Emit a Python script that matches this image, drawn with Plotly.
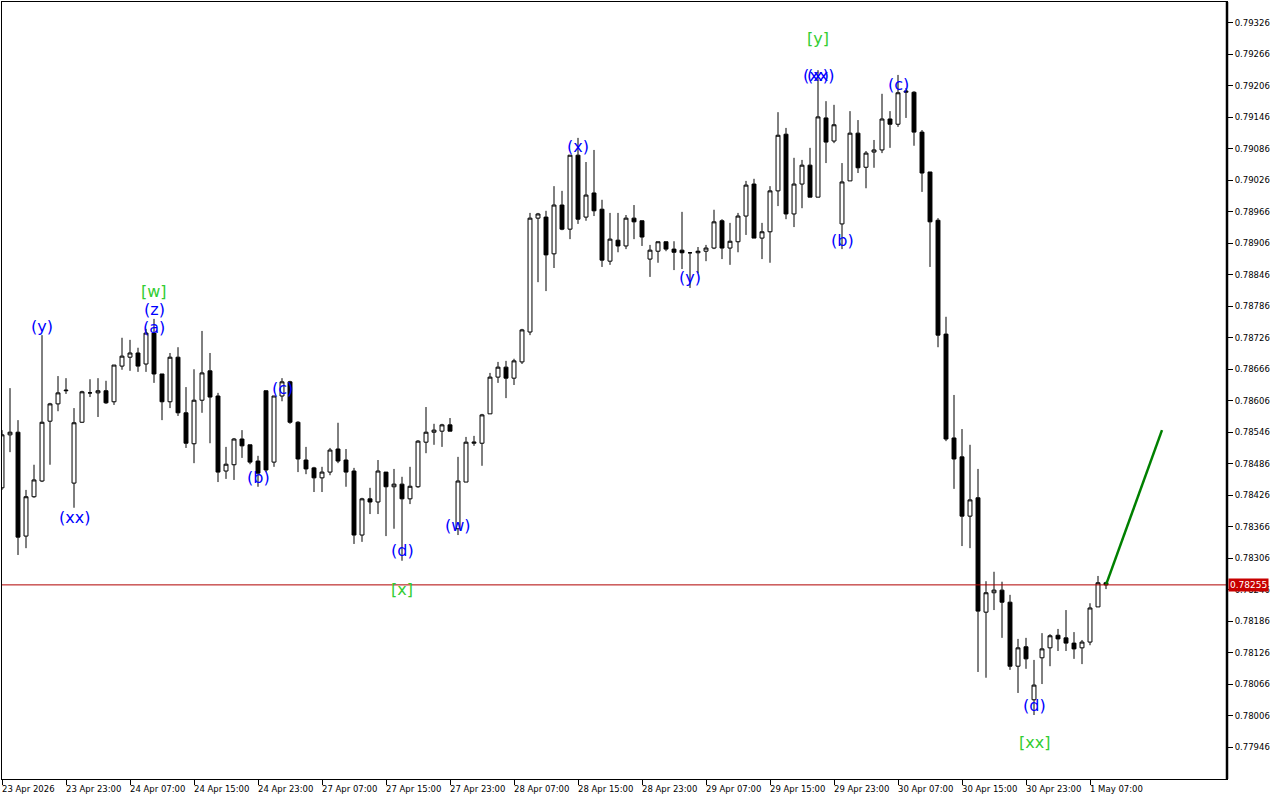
import plotly.graph_objects as go

# ---- OHLC data (H1 candles), index 0 = 23 Apr 2026 15:00 ----
opens = [0.78440, 0.78541, 0.78546, 0.78348, 0.78423, 0.78453, 0.78567, 0.78600, 0.78625, 0.78449,
         0.78565, 0.78621, 0.78621, 0.78625, 0.78604, 0.78672, 0.78689, 0.78697, 0.78676, 0.78735,
         0.78657, 0.78604, 0.78689, 0.78583, 0.78524, 0.78607, 0.78663, 0.78615, 0.78472, 0.78484,
         0.78533, 0.78522, 0.78491, 0.78625, 0.78489, 0.78615, 0.78642, 0.78565, 0.78493, 0.78478,
         0.78459, 0.78470, 0.78514, 0.78493, 0.78472, 0.78350, 0.78419, 0.78413, 0.78470, 0.78442,
         0.78447, 0.78419, 0.78442, 0.78527, 0.78546, 0.78548, 0.78560, 0.78362, 0.78451, 0.78525,
         0.78525, 0.78581, 0.78651, 0.78670, 0.78649, 0.78680, 0.78737, 0.78954, 0.78956, 0.78886,
         0.78979, 0.78933, 0.79074, 0.78956, 0.79002, 0.78971, 0.78872, 0.78912, 0.78901, 0.78954,
         0.78949, 0.78876, 0.78891, 0.78909, 0.78895, 0.78893, 0.78888, 0.78888, 0.78891, 0.78897,
         0.78949, 0.78897, 0.78909, 0.78958, 0.79019, 0.78916, 0.78928, 0.79006, 0.79114, 0.78962,
         0.79019, 0.79055, 0.78994, 0.79145, 0.79101, 0.78943, 0.79025, 0.79116, 0.79051, 0.79080,
         0.79084, 0.79143, 0.79133, 0.79194, 0.79194, 0.79118, 0.79042, 0.78950, 0.78733, 0.78535,
         0.78499, 0.78386, 0.78421, 0.78203, 0.78240, 0.78245, 0.78222, 0.78100, 0.78137, 0.78036,
         0.78116, 0.78135, 0.78159, 0.78154, 0.78144, 0.78135, 0.78146, 0.78213, 0.78259]
highs = [0.78550, 0.78630, 0.78569, 0.78436, 0.78484, 0.78731, 0.78602, 0.78653, 0.78649, 0.78592,
         0.78625, 0.78647, 0.78649, 0.78644, 0.78674, 0.78726, 0.78722, 0.78707, 0.78743, 0.78762,
         0.78657, 0.78697, 0.78708, 0.78632, 0.78666, 0.78739, 0.78697, 0.78621, 0.78518, 0.78535,
         0.78550, 0.78522, 0.78501, 0.78625, 0.78615, 0.78649, 0.78644, 0.78567, 0.78518, 0.78480,
         0.78480, 0.78516, 0.78564, 0.78514, 0.78478, 0.78421, 0.78440, 0.78493, 0.78470, 0.78476,
         0.78461, 0.78480, 0.78531, 0.78594, 0.78562, 0.78562, 0.78573, 0.78499, 0.78537, 0.78539,
         0.78581, 0.78659, 0.78680, 0.78682, 0.78686, 0.78743, 0.78964, 0.78964, 0.78968, 0.79015,
         0.79006, 0.79074, 0.79107, 0.79061, 0.79084, 0.78989, 0.78964, 0.78964, 0.78960, 0.78979,
         0.78949, 0.78903, 0.78909, 0.78909, 0.78910, 0.78966, 0.78889, 0.78899, 0.78903, 0.78970,
         0.78952, 0.78945, 0.78964, 0.79025, 0.79029, 0.78945, 0.79015, 0.79156, 0.79126, 0.79069,
         0.79065, 0.79088, 0.79236, 0.79177, 0.79170, 0.79059, 0.79158, 0.79141, 0.79082, 0.79103,
         0.79191, 0.79158, 0.79227, 0.79202, 0.79196, 0.79122, 0.79042, 0.78954, 0.78766, 0.78617,
         0.78552, 0.78522, 0.78476, 0.78262, 0.78280, 0.78261, 0.78236, 0.78152, 0.78154, 0.78112,
         0.78163, 0.78161, 0.78171, 0.78207, 0.78165, 0.78150, 0.78220, 0.78272, 0.78261]
lows = [0.78436, 0.78508, 0.78312, 0.78325, 0.78421, 0.78451, 0.78484, 0.78586, 0.78619, 0.78402,
        0.78564, 0.78613, 0.78575, 0.78600, 0.78598, 0.78665, 0.78663, 0.78661, 0.78661, 0.78640,
        0.78569, 0.78592, 0.78577, 0.78516, 0.78487, 0.78583, 0.78525, 0.78451, 0.78457, 0.78455,
        0.78497, 0.78485, 0.78442, 0.78470, 0.78480, 0.78605, 0.78562, 0.78470, 0.78466, 0.78432,
        0.78432, 0.78464, 0.78487, 0.78442, 0.78333, 0.78337, 0.78390, 0.78390, 0.78348, 0.78362,
        0.78301, 0.78409, 0.78440, 0.78506, 0.78522, 0.78518, 0.78548, 0.78350, 0.78451, 0.78520,
        0.78482, 0.78581, 0.78640, 0.78611, 0.78636, 0.78676, 0.78731, 0.78832, 0.78815, 0.78859,
        0.78931, 0.78914, 0.78943, 0.78949, 0.78958, 0.78861, 0.78865, 0.78889, 0.78895, 0.78914,
        0.78901, 0.78842, 0.78869, 0.78891, 0.78855, 0.78857, 0.78821, 0.78849, 0.78872, 0.78895,
        0.78876, 0.78865, 0.78889, 0.78922, 0.78916, 0.78876, 0.78869, 0.78977, 0.78952, 0.78937,
        0.78973, 0.78994, 0.78994, 0.79059, 0.79097, 0.78895, 0.79025, 0.79040, 0.79011, 0.79050,
        0.79078, 0.79088, 0.79128, 0.79145, 0.79092, 0.79004, 0.78861, 0.78708, 0.78529, 0.78438,
        0.78329, 0.78325, 0.78089, 0.78078, 0.78207, 0.78154, 0.78093, 0.78049, 0.78095, 0.78007,
        0.78066, 0.78100, 0.78129, 0.78129, 0.78114, 0.78104, 0.78140, 0.78213, 0.78247]
closes = [0.78541, 0.78546, 0.78346, 0.78423, 0.78455, 0.78565, 0.78600, 0.78621, 0.78626, 0.78564,
          0.78623, 0.78621, 0.78625, 0.78602, 0.78674, 0.78691, 0.78697, 0.78672, 0.78735, 0.78657,
          0.78604, 0.78689, 0.78583, 0.78525, 0.78607, 0.78659, 0.78613, 0.78470, 0.78485, 0.78533,
          0.78520, 0.78489, 0.78468, 0.78474, 0.78615, 0.78642, 0.78565, 0.78495, 0.78476, 0.78459,
          0.78470, 0.78512, 0.78491, 0.78470, 0.78350, 0.78419, 0.78413, 0.78472, 0.78442, 0.78447,
          0.78419, 0.78443, 0.78529, 0.78546, 0.78550, 0.78560, 0.78548, 0.78453, 0.78527, 0.78527,
          0.78579, 0.78651, 0.78670, 0.78649, 0.78682, 0.78741, 0.78954, 0.78962, 0.78884, 0.78979,
          0.78933, 0.79074, 0.78952, 0.78998, 0.78968, 0.78874, 0.78914, 0.78901, 0.78954, 0.78947,
          0.78918, 0.78893, 0.78909, 0.78895, 0.78889, 0.78888, 0.78888, 0.78891, 0.78897, 0.78947,
          0.78897, 0.78910, 0.78958, 0.79017, 0.78916, 0.78928, 0.79006, 0.79112, 0.78962, 0.79019,
          0.79055, 0.78994, 0.79147, 0.79099, 0.79132, 0.79023, 0.79116, 0.79050, 0.79078, 0.79084,
          0.79143, 0.79133, 0.79193, 0.79196, 0.79118, 0.79040, 0.78947, 0.78731, 0.78533, 0.78495,
          0.78386, 0.78417, 0.78205, 0.78240, 0.78245, 0.78222, 0.78100, 0.78135, 0.78114, 0.78064,
          0.78133, 0.78158, 0.78152, 0.78144, 0.78133, 0.78146, 0.78211, 0.78259, 0.78255]
bar_index = list(range(len(opens)))

# ---- time axis labels (every 8 bars) ----
time_label_idx = [0, 8, 16, 24, 32, 40, 48, 56, 64, 72, 80, 88, 96, 104, 112, 120, 128, 136]
time_labels = ["23 Apr 2026", "23 Apr 23:00", "24 Apr 07:00", "24 Apr 15:00", "24 Apr 23:00",
               "27 Apr 07:00", "27 Apr 15:00", "27 Apr 23:00", "28 Apr 07:00", "28 Apr 15:00",
               "28 Apr 23:00", "29 Apr 07:00", "29 Apr 15:00", "29 Apr 23:00", "30 Apr 07:00",
               "30 Apr 15:00", "30 Apr 23:00", "1 May 07:00"]

# ---- price axis ticks ----
price_ticks = [0.77946, 0.78006, 0.78066, 0.78126, 0.78186, 0.78246, 0.78306, 0.78366, 0.78426,
               0.78486, 0.78546, 0.78606, 0.78666, 0.78726, 0.78786, 0.78846, 0.78906, 0.78966,
               0.79026, 0.79086, 0.79146, 0.79206, 0.79266, 0.79326]

current_price = 0.78255

# ---- projection line ----
proj_idx = [138, 145]
proj_price = [0.78255, 0.78550]

# ---- wave labels ----
wave_text = ["(y)", "(xx)", "[w]", "(z)", "(a)", "(b)", "(c)", "(d)", "[x]", "(w)",
             "(x)", "(y)", "[y]", "(xx)", "(x)", "(b)", "(c)", "(d)", "[xx]"]
wave_idx = [5, 9, 19, 19, 19, 32, 35, 50, 50, 57,
            72, 86, 102, 102, 102, 105, 112, 129, 129]
wave_price = [0.78747, 0.78384, 0.78815, 0.78779, 0.78745, 0.78459, 0.78630, 0.78320, 0.78247, 0.78369,
              0.79090, 0.78840, 0.79297, 0.79225, 0.79225, 0.78912, 0.79208, 0.78026, 0.77954]
wave_degree = ["minor", "minor", "major", "minor", "minor", "minor", "minor", "minor", "major", "minor",
               "minor", "minor", "major", "minor", "minor", "minor", "minor", "minor", "major"]
degree_color = {"minor": "#0000FF", "major": "#32CD32"}

FONT = "DejaVu Sans"

fig = go.Figure()

fig.add_trace(go.Candlestick(
    x=bar_index, open=opens, high=highs, low=lows, close=closes,
    increasing=dict(line=dict(color="black", width=1), fillcolor="white"),
    decreasing=dict(line=dict(color="black", width=1), fillcolor="black"),
    whiskerwidth=0, hoverinfo="skip", showlegend=False,
))

fig.add_trace(go.Scatter(
    x=proj_idx, y=proj_price, mode="lines",
    line=dict(color="#008000", width=2.5), hoverinfo="skip", showlegend=False,
))

# current price line
fig.add_hline(y=current_price, line=dict(color="#B00000", width=1))

# thicker price-scale border on the right
fig.add_shape(type="line", xref="paper", yref="paper", x0=1, x1=1, y0=0, y1=1,
              line=dict(color="black", width=2.5))

annotations = []
for t, i, p, d in zip(wave_text, wave_idx, wave_price, wave_degree):
    annotations.append(dict(
        x=i, y=p, xref="x", yref="y", text=t, showarrow=False,
        xanchor="center", yanchor="middle",
        font=dict(family=FONT, size=16, color=degree_color[d]),
    ))

for i, t in zip(time_label_idx, time_labels):
    annotations.append(dict(
        x=i, y=0, xref="x", yref="paper", text=t, showarrow=False,
        xanchor="left", yanchor="top", xshift=-2, yshift=-3,
        font=dict(family=FONT, size=8.5, color="black"),
    ))

annotations.append(dict(
    x=1, y=current_price, xref="paper", yref="y", text="0.78255", showarrow=False,
    xanchor="left", yanchor="middle", xshift=1,
    bgcolor="#C80000", borderpad=1,
    font=dict(family=FONT, size=9, color="white"),
))

fig.update_layout(
    width=1280, height=800,
    margin=dict(l=2, r=53, t=2, b=21),
    paper_bgcolor="white", plot_bgcolor="white",
    annotations=annotations,
    showlegend=False,
    xaxis=dict(
        range=[0, 153.125], showgrid=False, zeroline=False,
        tickvals=time_label_idx, showticklabels=False,
        ticks="outside", ticklen=5, tickcolor="black",
        showline=True, linecolor="black", linewidth=1, mirror=True,
        rangeslider=dict(visible=False), fixedrange=True,
    ),
    yaxis=dict(
        range=[0.77885, 0.79366], side="right", showgrid=False, zeroline=False,
        tickvals=price_ticks, ticktext=[f"{v:.5f}" for v in price_ticks],
        ticks="outside", ticklen=5, tickcolor="black",
        tickfont=dict(family=FONT, size=8.5, color="black"),
        showline=True, linecolor="black", linewidth=1, mirror=True,
        fixedrange=True,
    ),
)

fig.write_html(
    "out.html",
    config={"displayModeBar": False},
    post_script="document.body.style.margin='0px';document.body.style.overflow='hidden';",
)
